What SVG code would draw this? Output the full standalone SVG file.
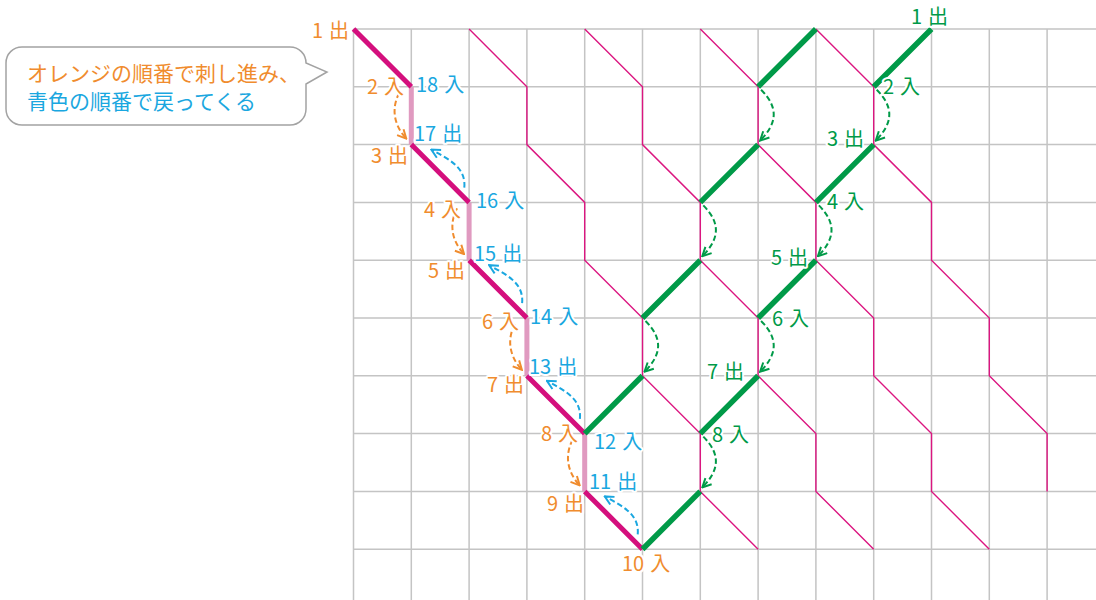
<svg xmlns="http://www.w3.org/2000/svg" width="1096" height="600" viewBox="0 0 1096 600">
<style>
.grid{stroke:#c4c4c4;stroke-width:1.5;fill:none}
.thin{stroke:#db1680;stroke-width:1.4;fill:none;stroke-linejoin:miter}
.thick{stroke:#d40f7d;stroke-width:5;fill:none;stroke-linecap:butt}
.back{stroke:#e09ac0;stroke-width:5;fill:none}
.green{stroke:#009a48;stroke-width:5.5;fill:none}
.arr{fill:none;stroke-width:2;stroke-dasharray:5.5 3}
.ao{stroke:#f08c2e}
.ab{stroke:#1aa7e0}
.ag{stroke:#009a48}
text{font-family:"Noto Sans CJK JP","Noto Sans",sans-serif}
.lbl{font-size:20px;word-spacing:1.5px;stroke:#fff;stroke-width:4;stroke-linejoin:round;paint-order:stroke}
.o{fill:#f08c2e}
.b{fill:#1aa7e0}
.g{fill:#009a48}
.bub{font-size:21px}
</style>
<defs>
<marker id="mo" viewBox="0 0 10 10" refX="9" refY="5" markerWidth="11" markerHeight="11" markerUnits="userSpaceOnUse" orient="auto"><path d="M1,1 L9,5 L1,9" fill="none" stroke="#f08c2e" stroke-width="1.8"/></marker>
<marker id="mb" viewBox="0 0 10 10" refX="9" refY="5" markerWidth="11" markerHeight="11" markerUnits="userSpaceOnUse" orient="auto"><path d="M1,1 L9,5 L1,9" fill="none" stroke="#1aa7e0" stroke-width="1.8"/></marker>
<marker id="mg" viewBox="0 0 10 10" refX="9" refY="5" markerWidth="11" markerHeight="11" markerUnits="userSpaceOnUse" orient="auto"><path d="M1,1 L9,5 L1,9" fill="none" stroke="#009a48" stroke-width="1.8"/></marker>
</defs>
<rect width="1096" height="600" fill="#fff"/>
<g id="grid">
<path class="grid" d="M353.5,29V600M411.3,29V600M469.1,29V600M526.9,29V600M584.7,29V600M642.5,29V600M700.3,29V600M758.1,29V600M815.9,29V600M873.7,29V600M931.5,29V600M989.3,29V600M1047.1,29V600
M353.5,29H1096M353.5,86.8H1096M353.5,144.6H1096M353.5,202.4H1096M353.5,260.2H1096M353.5,318H1096M353.5,375.8H1096M353.5,433.6H1096M353.5,491.4H1096M353.5,549.2H1096"/>
</g>
<g id="connectors">
<path class="thin" d="M469.1,29L526.9,86.8V144.6L584.7,202.4V260.2L642.5,318V375.8L700.3,433.6V491.4L758.1,549.2"/>
<path class="thin" d="M584.7,29L642.5,86.8V144.6L700.3,202.4V260.2L758.1,318V375.8L815.9,433.6V491.4L873.7,549.2"/>
<path class="thin" d="M700.3,29L758.1,86.8V144.6L815.9,202.4V260.2L873.7,318V375.8L931.5,433.6V491.4L989.3,549.2"/>
<path class="thin" d="M815.9,29L873.7,86.8V144.6L931.5,202.4V260.2L989.3,318V375.8L1047.1,433.6V491.4"/>
<path class="back" d="M411.3,86.8V144.6M469.1,202.4V260.2M526.9,318V375.8M584.7,433.6V491.4"/>
<path class="thick" d="M353.5,29L411.3,86.8M411.3,144.6L469.1,202.4M469.1,260.2L526.9,318M526.9,375.8L584.7,433.6M584.7,491.4L642.5,549.2"/>
<path class="green" d="M815.9,29L758.1,86.8M758.1,144.6L700.3,202.4M700.3,260.2L642.5,318M642.5,375.8L584.7,433.6"/>
<path class="green" d="M931.5,29L873.7,86.8M873.7,144.6L815.9,202.4M815.9,260.2L758.1,318M758.1,375.8L700.3,433.6M700.3,491.4L642.5,549.2"/>
<g marker-end="url(#mo)">
<path class="arr ao" d="M399.3,92.8C391.3,107.8 393.3,124.6 406.3,138.6"/>
<path class="arr ao" d="M457.1,208.4C449.1,223.4 451.1,240.2 464.1,254.2"/>
<path class="arr ao" d="M514.9,324C506.9,339 508.9,355.8 521.9,369.8"/>
<path class="arr ao" d="M572.7,439.6C564.7,454.6 566.7,471.4 579.7,485.4"/>
</g>
<g marker-end="url(#mb)">
<path class="arr ab" d="M464.3,187.6C466.3,166.6 447.3,158.6 431.3,149.6"/>
<path class="arr ab" d="M522.1,303.2C524.1,282.2 505.1,274.2 489.1,265.2"/>
<path class="arr ab" d="M579.9,418.8C581.9,397.8 562.9,389.8 546.9,380.8"/>
<path class="arr ab" d="M637.7,534.4C639.7,513.4 620.7,505.4 604.7,496.4"/>
</g>
<g marker-end="url(#mg)">
<path class="arr ag" d="M761.1,89.8C778.1,106.8 778.1,122.6 760.1,140.6"/>
<path class="arr ag" d="M876.7,89.8C893.7,106.8 893.7,122.6 875.7,140.6"/>
<path class="arr ag" d="M703.3,205.4C720.3,222.4 720.3,238.2 702.3,256.2"/>
<path class="arr ag" d="M818.9,205.4C835.9,222.4 835.9,238.2 817.9,256.2"/>
<path class="arr ag" d="M645.5,321C662.5,338 662.5,353.8 644.5,371.8"/>
<path class="arr ag" d="M761.1,321C778.1,338 778.1,353.8 760.1,371.8"/>
<path class="arr ag" d="M703.3,436.6C720.3,453.6 720.3,469.4 702.3,487.4"/>
</g>
</g>
<g id="labels-orange">
<text class="lbl o" x="312" y="38">1 出</text>
<text class="lbl o" x="367" y="94">2 入</text>
<text class="lbl o" x="371" y="163">3 出</text>
<text class="lbl o" x="424" y="217">4 入</text>
<text class="lbl o" x="428" y="278">5 出</text>
<text class="lbl o" x="482" y="329">6 入</text>
<text class="lbl o" x="487" y="392">7 出</text>
<text class="lbl o" x="541" y="441">8 入</text>
<text class="lbl o" x="547" y="511">9 出</text>
<text class="lbl o" x="622" y="571">10 入</text>
</g>
<g id="labels-blue">
<text class="lbl b" x="416" y="92">18 入</text>
<text class="lbl b" x="414" y="141">17 出</text>
<text class="lbl b" x="476" y="208">16 入</text>
<text class="lbl b" x="474" y="261">15 出</text>
<text class="lbl b" x="530" y="324">14 入</text>
<text class="lbl b" x="529" y="374">13 出</text>
<text class="lbl b" x="594" y="449">12 入</text>
<text class="lbl b" x="589" y="489">11 出</text>
</g>
<g id="labels-green">
<text class="lbl g" x="911" y="24">1 出</text>
<text class="lbl g" x="883" y="94">2 入</text>
<text class="lbl g" x="827" y="146">3 出</text>
<text class="lbl g" x="827" y="209">4 入</text>
<text class="lbl g" x="771" y="265">5 出</text>
<text class="lbl g" x="772" y="326">6 入</text>
<text class="lbl g" x="707" y="379">7 出</text>
<text class="lbl g" x="712" y="442">8 入</text>
</g>
<g id="bubble">
<path d="M22,47H290C299,47 306,54 306,63L327,72L306,84V109C306,118 299,125 290,125H22C13,125 6,118 6,109V63C6,54 13,47 22,47Z" fill="#fff" stroke="#a3a3a3" stroke-width="1.5"/>
<text class="bub o" x="27" y="81">オレンジの順番で刺し進み、</text>
<text class="bub b" x="27" y="109">青色の順番で戻ってくる</text>
</g>
</svg>
